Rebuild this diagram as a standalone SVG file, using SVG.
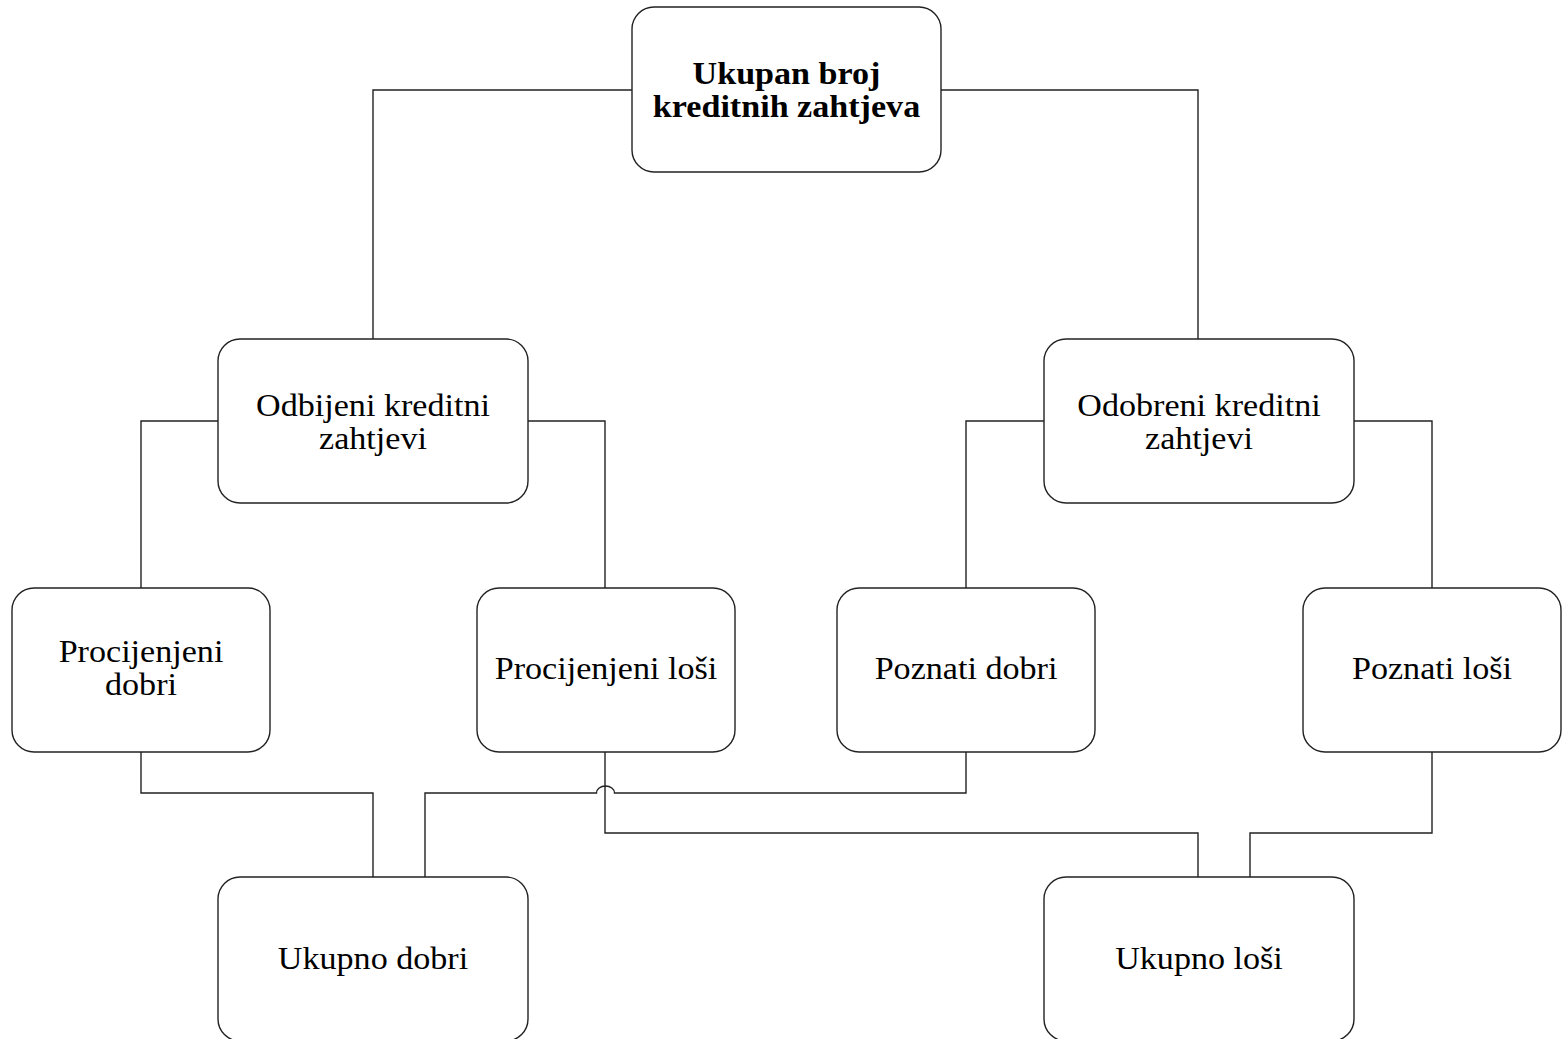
<svg xmlns="http://www.w3.org/2000/svg" width="1566" height="1039" viewBox="0 0 1566 1039">
<style>
.box{fill:#ffffff;stroke:#222222;stroke-width:1.4}
.ln{fill:none;stroke:#222222;stroke-width:1.4}
.t{font-family:"Liberation Serif","Times New Roman",serif;font-size:31px;fill:#000000;text-anchor:middle}
.b{font-weight:bold}
</style>
<rect width="1566" height="1039" fill="#ffffff"/>
<g id="connectors">
<path class="ln" d="M632 90 H373 V339"/>
<path class="ln" d="M941 90 H1198 V339"/>
<path class="ln" d="M218 421 H141 V588"/>
<path class="ln" d="M528 421 H605 V588"/>
<path class="ln" d="M1044 421 H966 V588"/>
<path class="ln" d="M1354 421 H1432 V588"/>
<path class="ln" d="M141 752 V793 H373 V877"/>
<path class="ln" d="M966 752 V793 H614.5 A9 7 0 0 0 596.5 793 H425 V877"/>
<path class="ln" d="M605 752 V833 H1198 V877"/>
<path class="ln" d="M1432 752 V833 H1250 V877"/>
</g>
<g id="n-total">
<rect class="box" x="632" y="7" width="309" height="165" rx="22"/>
<text class="t b" transform="translate(786.5,84) scale(1.1,1)">Ukupan broj</text>
<text class="t b" transform="translate(786.5,117) scale(1.1,1)">kreditnih zahtjeva</text>
</g>
<g id="n-odbijeni">
<rect class="box" x="218" y="339" width="310" height="164" rx="22"/>
<text class="t" transform="translate(373,416) scale(1.1,1)">Odbijeni kreditni</text>
<text class="t" transform="translate(373,449) scale(1.1,1)">zahtjevi</text>
</g>
<g id="n-odobreni">
<rect class="box" x="1044" y="339" width="310" height="164" rx="22"/>
<text class="t" transform="translate(1199,416) scale(1.1,1)">Odobreni kreditni</text>
<text class="t" transform="translate(1199,449) scale(1.1,1)">zahtjevi</text>
</g>
<g id="n-proc-dobri">
<rect class="box" x="12" y="588" width="258" height="164" rx="22"/>
<text class="t" transform="translate(141,662) scale(1.1,1)">Procijenjeni</text>
<text class="t" transform="translate(141,695) scale(1.1,1)">dobri</text>
</g>
<g id="n-proc-losi">
<rect class="box" x="477" y="588" width="258" height="164" rx="22"/>
<text class="t" transform="translate(606,679) scale(1.1,1)">Procijenjeni loši</text>
</g>
<g id="n-pozn-dobri">
<rect class="box" x="837" y="588" width="258" height="164" rx="22"/>
<text class="t" transform="translate(966,679) scale(1.1,1)">Poznati dobri</text>
</g>
<g id="n-pozn-losi">
<rect class="box" x="1303" y="588" width="258" height="164" rx="22"/>
<text class="t" transform="translate(1432,679) scale(1.1,1)">Poznati loši</text>
</g>
<g id="n-uk-dobri">
<rect class="box" x="218" y="877" width="310" height="164" rx="22"/>
<text class="t" transform="translate(373,969) scale(1.1,1)">Ukupno dobri</text>
</g>
<g id="n-uk-losi">
<rect class="box" x="1044" y="877" width="310" height="164" rx="22"/>
<text class="t" transform="translate(1199,969) scale(1.1,1)">Ukupno loši</text>
</g>
</svg>
